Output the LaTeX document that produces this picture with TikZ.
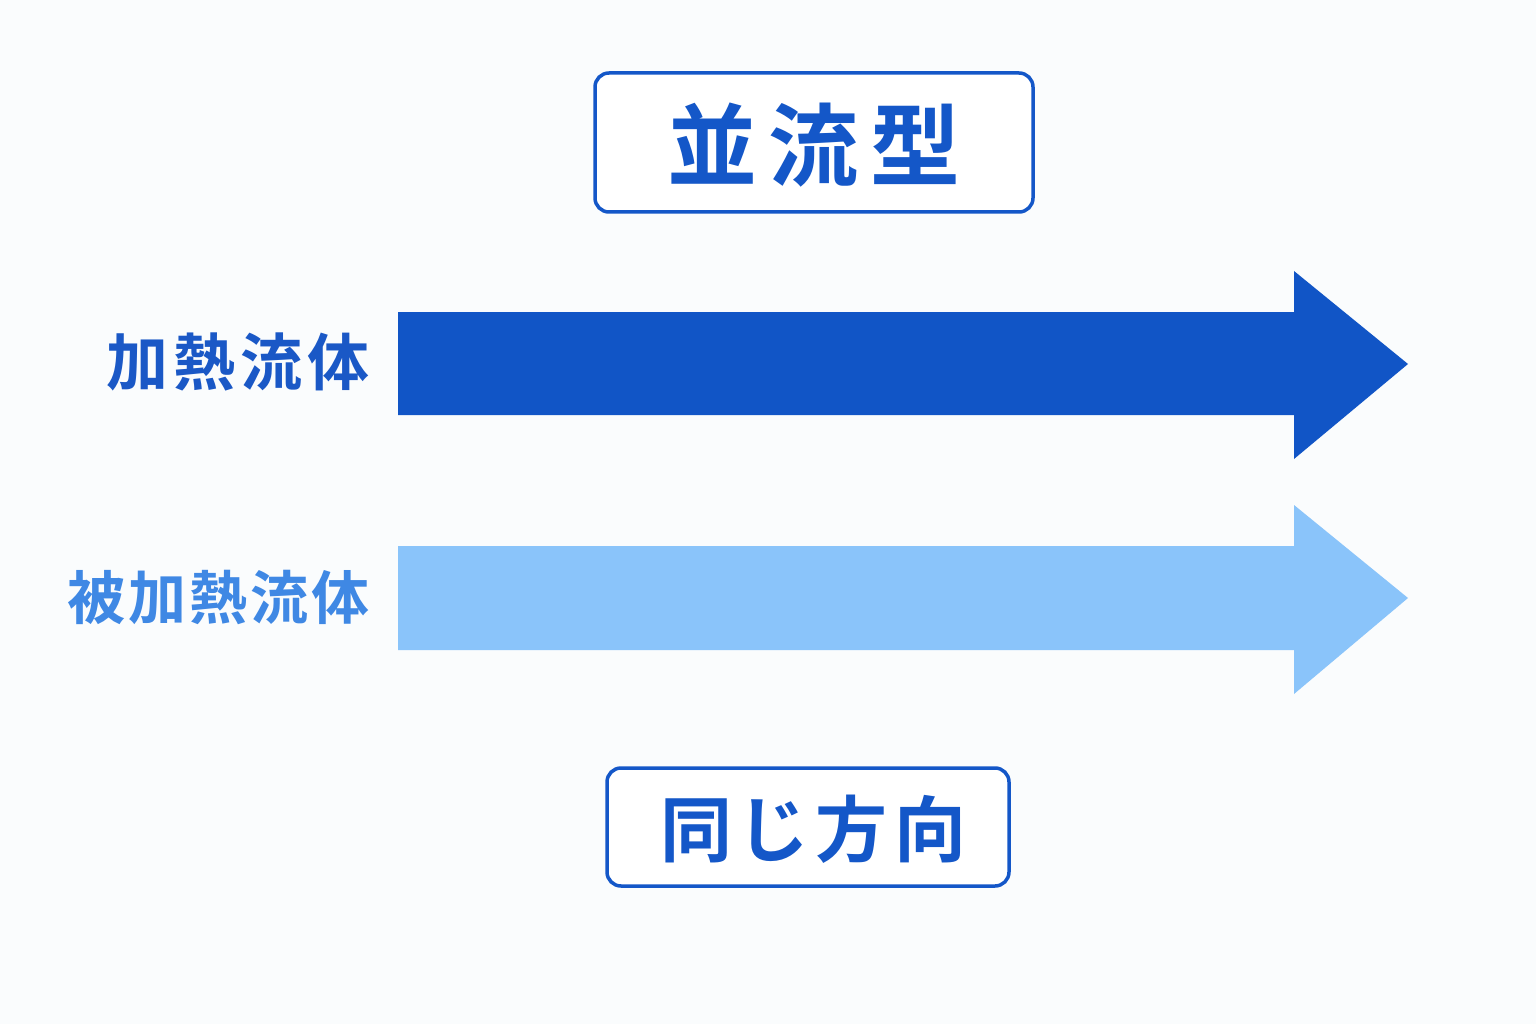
\documentclass[tikz,border=0pt]{standalone}
\usepackage{fontspec}
\newfontfamily\jpfont{Noto Sans CJK JP}[BoldFont={* Bold}]
\definecolor{bgc}{HTML}{FAFCFD}
\definecolor{darkb}{HTML}{1155C6}
\definecolor{lightb}{HTML}{8AC4FA}
\definecolor{labdark}{HTML}{1A58C6}
\definecolor{lablight}{HTML}{3F88E4}
\definecolor{boxb}{HTML}{1457C8}
\begin{document}
\begin{tikzpicture}[x=1pt,y=-1pt,
  titlebox/.style={draw=boxb,line width=3.5pt,rounded corners=14pt,fill=white},
  txt/.style={inner sep=0pt,font=\jpfont\bfseries},
  arrowdark/.style={fill=darkb,draw=none},
  arrowlight/.style={fill=lightb,draw=none}]
\fill[bgc] (0,0) rectangle (1536,1024);
\useasboundingbox (0,0) rectangle (1536,1024);
% title box
\draw[titlebox] (595,73) rectangle (1033,212);
\node[txt,text=boxb,font=\jpfont\bfseries\fontsize{90}{90}\selectfont] (title) at (814,145) {並\hspace{12pt}流\hspace{12pt}型};
% arrows
\coordinate (a1s) at (398,364);
\fill[arrowdark] (398,312) -- (1294,312) -- (1294,271) -- (1408,364) -- (1294,459) -- (1294,415) -- (398,415) -- cycle;
\coordinate (a2s) at (398,598);
\fill[arrowlight] (398,546) -- (1294,546) -- (1294,505) -- (1408,598) -- (1294,694) -- (1294,650) -- (398,650) -- cycle;
% labels
\node[txt,text=labdark,anchor=east,font=\jpfont\bfseries\fontsize{62}{62}\selectfont] (hot) at (370,362) {加\hspace{5pt}熱\hspace{5pt}流\hspace{5pt}体};
\node[txt,text=lablight,anchor=east,font=\jpfont\bfseries\fontsize{58}{58}\selectfont] (cold) at (370,597) {被\hspace{3pt}加\hspace{3pt}熱\hspace{3pt}流\hspace{3pt}体};
% bottom box
\draw[titlebox] (607,768) rectangle (1009,886);
\node[txt,text=boxb,font=\jpfont\bfseries\fontsize{72}{72}\selectfont] (same) at (813,829) {同\hspace{6pt}じ\hspace{6pt}方\hspace{6pt}向};
\end{tikzpicture}
\end{document}
